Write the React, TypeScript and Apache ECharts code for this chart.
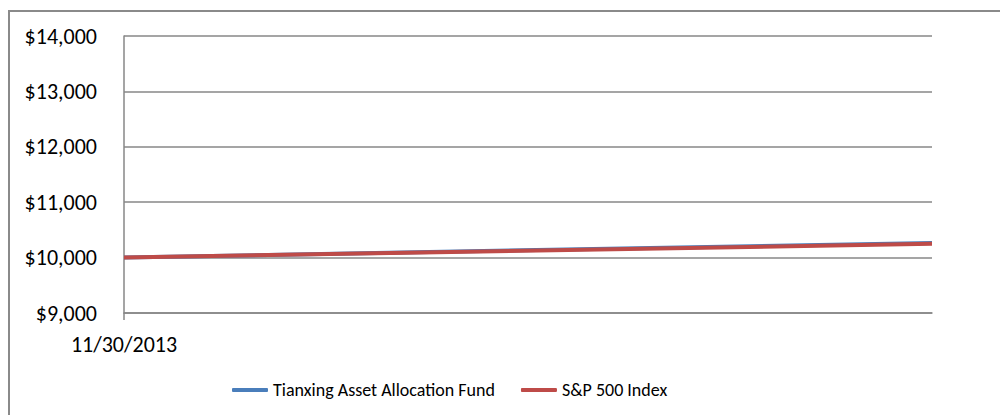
import React, { useEffect, useRef } from "react";
import * as echarts from "echarts";

const dates = ["11/30/2013", "12/31/2013"];
const fundValues = [10000, 10265];
const spValues = [10000, 10250];
const seriesNames = ["Tianxing Asset Allocation Fund", "S&P 500 Index"];

const FONT = "Carlito, Calibri, 'Liberation Sans', Arial, sans-serif";

export default function App() {
  const ref = useRef<HTMLDivElement>(null);
  useEffect(() => {
    if (!ref.current) return;
    const chart = echarts.init(ref.current, null, { renderer: "svg" });
    chart.setOption({
      animation: false,
      backgroundColor: "#ffffff",
      graphic: [
        {
          type: "rect",
          shape: { x: 9, y: 11, width: 1200, height: 600 },
          style: { fill: "none", stroke: "#8a8a8a", lineWidth: 2 },
          silent: true,
          z: -1,
        },
      ],
      grid: { left: 124, top: 36, right: 68, bottom: 102, containLabel: false },
      legend: {
        left: 232,
        top: 381,
        padding: 0,
        icon: "roundRect",
        itemWidth: 36,
        itemHeight: 4,
        itemGap: 26,
        textStyle: { fontFamily: FONT, fontSize: 18, color: "#000" },
        data: seriesNames,
      },
      xAxis: {
        type: "category",
        boundaryGap: false,
        data: dates,
        axisLine: { show: true, lineStyle: { color: "#878787", width: 1.5 } },
        axisTick: { show: true, interval: 1, length: 7, lineStyle: { color: "#878787", width: 1.5 } },
        axisLabel: {
          interval: 1,
          showMaxLabel: false,
          margin: 20,
          fontFamily: FONT,
          fontSize: 22,
          color: "#000",
        },
        splitLine: { show: false },
      },
      yAxis: {
        type: "value",
        min: 9000,
        max: 14000,
        interval: 1000,
        axisLine: { show: true, lineStyle: { color: "#878787", width: 1.5 } },
        axisTick: { show: false },
        axisLabel: {
          margin: 27,
          fontFamily: FONT,
          fontSize: 22,
          color: "#000",
          formatter: (v: number) => "$" + v.toLocaleString("en-US"),
        },
        splitLine: { show: true, lineStyle: { color: "#878787", width: 1.5 } },
      },
      series: [
        {
          name: seriesNames[0],
          type: "line",
          data: fundValues,
          showSymbol: false,
          lineStyle: { color: "#4a7ebb", width: 4 },
          itemStyle: { color: "#4a7ebb" },
        },
        {
          name: seriesNames[1],
          type: "line",
          data: spValues,
          showSymbol: false,
          lineStyle: { color: "#be4b48", width: 4 },
          itemStyle: { color: "#be4b48" },
        },
      ],
    });
    return () => chart.dispose();
  }, []);
  return (
    <div
      ref={ref}
      style={{ position: "absolute", left: 0, top: 0, width: 1000, height: 415 }}
    />
  );
}
